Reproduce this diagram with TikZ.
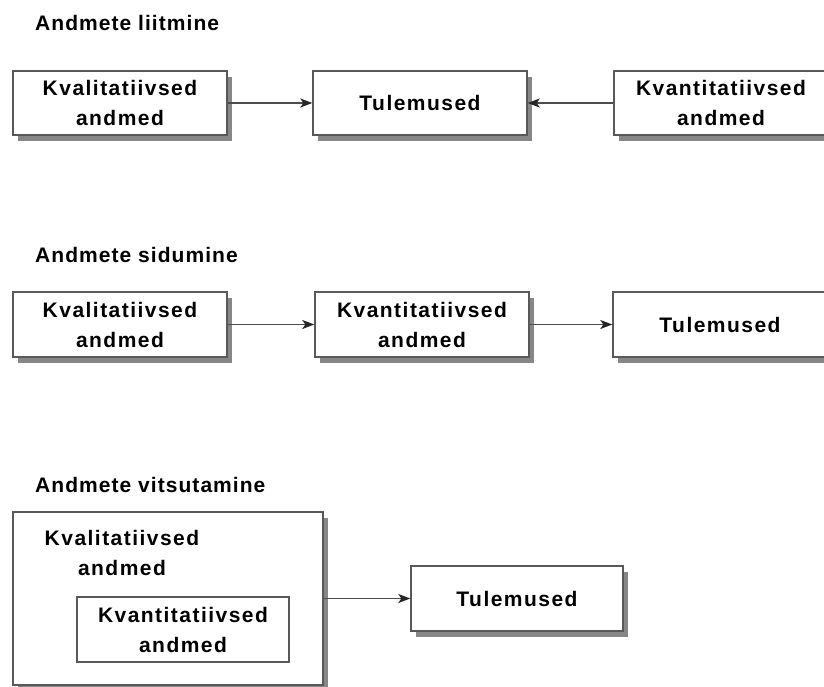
\documentclass[tikz,border=0pt]{standalone}
\usepackage{fontspec}
\setmainfont{Liberation Sans}
\usetikzlibrary{arrows.meta,shadows}

\tikzset{
  lbl/.style={font=\fontsize{21}{30}\selectfont\bfseries\addfontfeatures{LetterSpace=7}},
  headfont/.style={font=\fontsize{21}{30}\selectfont\bfseries\addfontfeatures{LetterSpace=5}},
  databox/.style={lbl, draw=black!65, line width=1.4pt, fill=white,
    minimum width=214pt, minimum height=64pt, align=center, inner sep=0pt,
    drop shadow={shadow xshift=5pt, shadow yshift=-6pt, fill=black!47, opacity=1}},
  plainbox/.style={lbl, draw=black!65, line width=1.4pt, fill=white,
    align=center, inner sep=0pt},
  title/.style={headfont, anchor=base west, inner sep=0pt},
  link/.style={draw=black!70, line width=1.5pt,
    -{Stealth[length=12pt,width=9pt,inset=3pt,color=black!85]}}
}

\begin{document}
\begin{tikzpicture}[x=1pt,y=-1pt]
\useasboundingbox (0,0) rectangle (824,687);
\clip (0,0) rectangle (824,687);

% merging
\node[title] (t1) at (35,31) {Andmete liitmine};
\node[databox] (a1) at (120,103) {Kvalitatiivsed\\andmed};
\node[databox] (r1) at (420,103) {Tulemused};
\node[databox] (q1) at (721,103) {Kvantitatiivsed\\andmed};
\draw[link] (a1) -- (r1);
\draw[link] (q1) -- (r1);

% connecting
\node[title] (t2) at (35,262) {Andmete sidumine};
\node[databox, minimum height=65pt] (a2) at (120,324.5) {Kvalitatiivsed\\andmed};
\node[databox, minimum height=65pt] (q2) at (422,324.5) {Kvantitatiivsed\\andmed};
\node[databox, minimum height=65pt] (r2) at (720,324.5) {Tulemused};
\draw[link] (a2) -- (q2);
\draw[link] (q2) -- (r2);

% embedding
\node[title] (t3) at (35,492) {Andmete vitsutamine};
\node[databox, minimum width=310pt, minimum height=173pt] (outer) at (168,598.5) {};
\node[lbl, align=center, inner sep=0pt] (outertxt) at (122,553) {Kvalitatiivsed\\andmed};
\node[plainbox, minimum width=212pt, minimum height=65pt] (inner) at (183,629.5) {Kvantitatiivsed\\andmed};
\node[databox, minimum width=212pt, minimum height=65pt] (r3) at (517,598.5) {Tulemused};
\draw[link] (outer) -- (r3);
\end{tikzpicture}
\end{document}
